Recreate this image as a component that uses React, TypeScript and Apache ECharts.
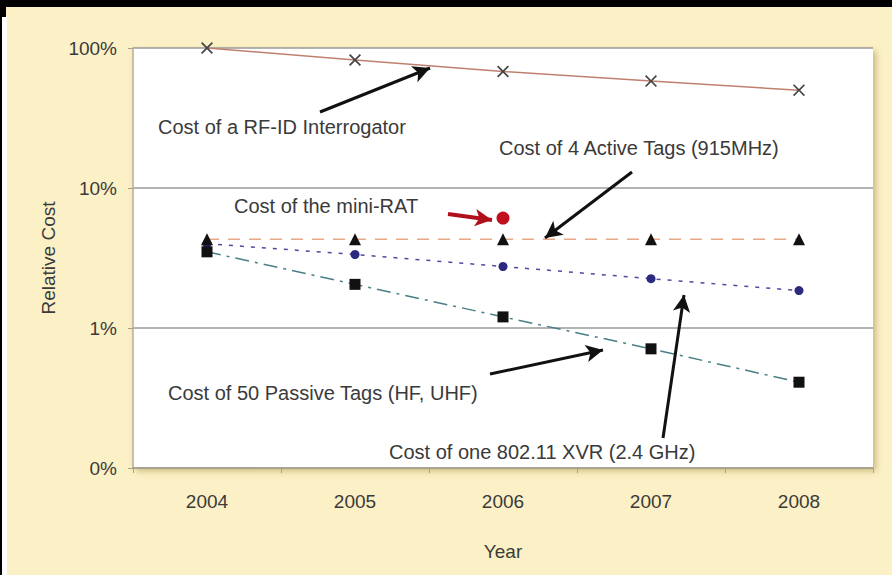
import React, { useEffect, useRef } from "react";
import * as echarts from "echarts";

const years = ["2004", "2005", "2006", "2007", "2008"];
const interrogator = [100, 82, 68, 58, 50];
const activeTags = [4.3, 4.3, 4.3, 4.3, 4.3];
const xvr = [4.0, 3.35, 2.75, 2.25, 1.85];
const passiveTags = [3.5, 2.05, 1.2, 0.71, 0.41];
const miniRat = [null, null, 6.1, null, null];

const FONT = '"Liberation Sans", Arial, sans-serif';
const TEXT = "#3a3a3a";

const annotations = [
  { text: "Cost of a RF-ID Interrogator", x: 158, y: 127 },
  { text: "Cost of 4 Active Tags (915MHz)", x: 499, y: 148 },
  { text: "Cost of the mini-RAT", x: 234, y: 206 },
  { text: "Cost of 50 Passive Tags (HF, UHF)", x: 168, y: 393 },
  { text: "Cost of one 802.11 XVR (2.4 GHz)", x: 389, y: 452 },
];

const arrows = [
  { from: [320, 112], to: [430, 68], color: "#111", width: 3 },
  { from: [632, 172], to: [545, 238], color: "#111", width: 3 },
  { from: [490, 374], to: [603, 350], color: "#111", width: 3 },
  { from: [663, 438], to: [684, 295], color: "#111", width: 3 },
  { from: [448, 214], to: [492, 220], color: "#b0101c", width: 4 },
];

const X_SYMBOL =
  "path://M0,1L1,0L5,4L9,0L10,1L6,5L10,9L9,10L5,6L1,10L0,9L4,5Z";

export default function App() {
  const ref = useRef<HTMLDivElement>(null);
  useEffect(() => {
    if (!ref.current) return;
    const chart = echarts.init(ref.current, null, { renderer: "svg" });
    chart.setOption({
      animation: false,
      backgroundColor: "#fcf0c6",
      textStyle: { fontFamily: FONT },
      grid: {
        left: 133,
        top: 48,
        right: 19,
        bottom: 107,
        show: true,
        backgroundColor: "#ffffff",
        borderWidth: 0,
        shadowColor: "rgba(140,115,40,0.45)",
        shadowBlur: 6,
        shadowOffsetX: 3,
        shadowOffsetY: 3,
      },
      xAxis: {
        type: "category",
        data: years,
        boundaryGap: true,
        name: "Year",
        nameLocation: "middle",
        nameGap: 74,
        nameTextStyle: { color: TEXT, fontSize: 19, fontFamily: FONT },
        axisLine: { show: true, lineStyle: { color: "#a8a08a", width: 1.5 } },
        axisTick: { show: true, length: 5, lineStyle: { color: "#a8a08a" } },
        axisLabel: { color: TEXT, fontSize: 19, margin: 24, fontFamily: FONT },
        splitLine: { show: false },
      },
      yAxis: {
        type: "log",
        logBase: 10,
        min: 0.1,
        max: 100,
        name: "Relative Cost",
        nameLocation: "middle",
        nameGap: 70,
        nameTextStyle: { color: TEXT, fontSize: 19, fontFamily: FONT },
        axisLine: { show: true, lineStyle: { color: "#b8ae94", width: 1.5 } },
        axisTick: { show: true, length: 5, lineStyle: { color: "#a8a08a" } },
        axisLabel: {
          color: TEXT,
          fontSize: 19,
          margin: 16,
          fontFamily: FONT,
          formatter: (v: number) => (v < 1 ? "0%" : `${Math.round(v)}%`),
        },
        splitLine: { show: true, lineStyle: { color: "#9a9a9a", width: 1.5 } },
      },
      series: [
        {
          name: "RF-ID Interrogator",
          type: "line",
          data: interrogator,
          symbol: X_SYMBOL,
          symbolSize: 12,
          itemStyle: { color: "#444" },
          lineStyle: { color: "#c08070", width: 1.5 },
          z: 3,
          markLine: {
            silent: true,
            animation: false,
            symbol: ["none", "arrow"],
            symbolSize: [13, 17],
            label: { show: false },
            lineStyle: { color: "#111", width: 3, type: "solid" },
            data: arrows.map((a) => [
              {
                x: a.from[0],
                y: a.from[1],
                lineStyle: { color: a.color, width: a.width, type: "solid" },
                itemStyle: { color: a.color },
              },
              { x: a.to[0], y: a.to[1] },
            ]),
          },
        },
        {
          name: "Active Tags",
          type: "line",
          data: activeTags,
          symbol: "triangle",
          symbolSize: 12,
          itemStyle: { color: "#111" },
          lineStyle: { color: "#e8a888", width: 1.5, type: [12, 9] },
          z: 3,
        },
        {
          name: "802.11 XVR",
          type: "line",
          data: xvr,
          symbol: "circle",
          symbolSize: 9,
          itemStyle: { color: "#2c2a80" },
          lineStyle: { color: "#5048a0", width: 1.5, type: [4, 7] },
          z: 2,
        },
        {
          name: "Passive Tags",
          type: "line",
          data: passiveTags,
          symbol: "rect",
          symbolSize: 11,
          itemStyle: { color: "#111" },
          lineStyle: { color: "#4a7f86", width: 1.5, type: [14, 6, 3, 6] },
          z: 3,
        },
        {
          name: "mini-RAT",
          type: "scatter",
          data: miniRat,
          symbol: "circle",
          symbolSize: 13,
          itemStyle: { color: "#c0101e", opacity: 1 },
          z: 4,
        },
      ],
      graphic: [
        { type: "rect", shape: { x: 0, y: 0, width: 892, height: 7 }, style: { fill: "#000" }, z: 100 },
        { type: "rect", shape: { x: 0, y: 0, width: 6, height: 17 }, style: { fill: "#000" }, z: 100 },
        { type: "rect", shape: { x: 0, y: 17, width: 7, height: 558 }, style: { fill: "#fff" }, z: 100 },
        { type: "rect", shape: { x: 0, y: 17, width: 2, height: 558 }, style: { fill: "#000" }, z: 100 },
        ...annotations.map((a) => ({
          type: "text",
          x: a.x,
          y: a.y,
          z: 50,
          style: {
            text: a.text,
            fill: TEXT,
            font: `20px ${FONT}`,
            textAlign: "left",
            textVerticalAlign: "middle",
          },
        })),
      ],
    });
    return () => chart.dispose();
  }, []);
  return (
    <div
      ref={ref}
      style={{ position: "fixed", left: 0, top: 0, width: 892, height: 575 }}
    />
  );
}
